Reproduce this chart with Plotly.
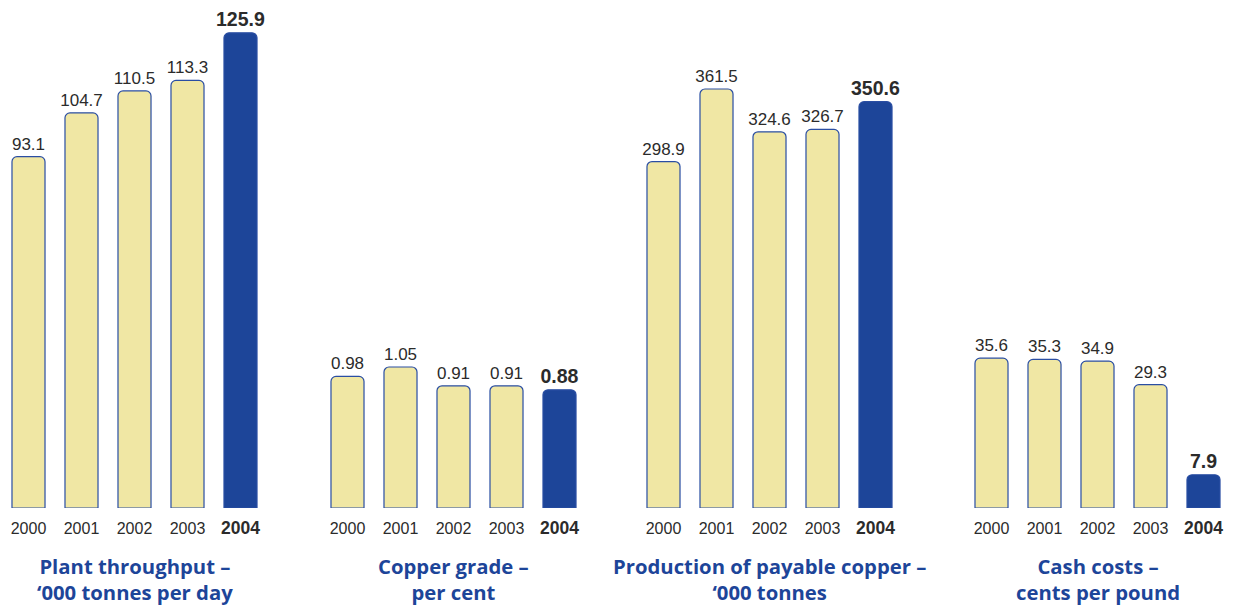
import plotly.graph_objects as go

years = ["2000", "2001", "2002", "2003", "2004"]
year_ticks = ["2000", "2001", "2002", "2003",
              "<span style='font-size:17.5px'><b>2004</b></span>"]

throughput = [93.1, 104.7, 110.5, 113.3, 125.9]
grade = [0.98, 1.05, 0.91, 0.91, 0.88]
production = [298.9, 361.5, 324.6, 326.7, 350.6]
cash_costs = [35.6, 35.3, 34.9, 29.3, 7.9]

titles = [
    "Plant throughput –<br>‘000 tonnes per day",
    "Copper grade –<br>per cent",
    "Production of payable copper –<br>‘000 tonnes",
    "Cash costs –<br>cents per pound",
]
fmt = ["{:.1f}", "{:.2f}", "{:.1f}", "{:.1f}"]
series = [throughput, grade, production, cash_costs]
yranges = [134.6, 3.783, 438.3, 120.7]

W, H = 1237, 610
plot_h = 508
panel_px = [(2, 267), (321, 586), (637, 902), (965, 1230)]

YELLOW = "#F0E7A4"
BLUE = "#1D4599"
EDGE = "#2A4EA3"
TXT = "#2b2b2b"

fig = go.Figure()
for i, vals in enumerate(series):
    n = i + 1
    xa = "x" if n == 1 else f"x{n}"
    ya = "y" if n == 1 else f"y{n}"
    texts = [fmt[i].format(v) for v in vals]
    texts[-1] = "<span style='font-size:19.5px'><b>" + texts[-1] + "</b></span>"
    fig.add_trace(go.Bar(
        x=years, y=vals, xaxis=xa, yaxis=ya,
        marker=dict(color=[YELLOW] * 4 + [BLUE],
                    line=dict(color=EDGE, width=1.2),
                    cornerradius=5),
        text=texts, textposition="outside", cliponaxis=False,
        constraintext="none",
        textfont=dict(family="Liberation Sans, Arial", size=17, color=TXT),
        showlegend=False, hoverinfo="skip",
    ))
    d0, d1 = panel_px[i]
    xkey = "xaxis" if n == 1 else f"xaxis{n}"
    ykey = "yaxis" if n == 1 else f"yaxis{n}"
    fig.update_layout(**{
        xkey: dict(domain=[d0 / W, d1 / W], anchor=ya, type="category",
                   tickvals=years, ticktext=year_ticks,
                   showgrid=False, zeroline=False, showline=False,
                   ticks="outside", ticklen=6, tickcolor="rgba(0,0,0,0)",
                   tickfont=dict(family="Liberation Sans, Arial", size=16, color=TXT)),
        ykey: dict(domain=[0, 1], anchor=xa, range=[0, yranges[i]],
                   visible=False, showgrid=False, zeroline=False),
    })
    fig.add_annotation(
        x=(d0 + d1) / 2 / W, y=-(550 - plot_h) / plot_h,
        xref="paper", yref="paper",
        xanchor="center", yanchor="top", showarrow=False, align="center",
        text="<b>" + titles[i] + "</b>",
        font=dict(family="Open Sans", size=20.3, color=BLUE),
    )

fig.update_layout(
    width=W, height=H,
    margin=dict(l=0, r=0, t=0, b=H - plot_h),
    bargap=0.377,
    paper_bgcolor="white", plot_bgcolor="white",
)

fig.write_html("out.html", config={"displayModeBar": False},
               post_script="document.body.style.margin='0';")
